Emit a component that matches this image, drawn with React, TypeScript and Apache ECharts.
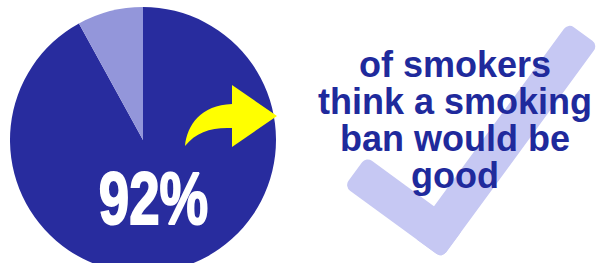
import React, { useEffect, useRef } from "react";
import * as echarts from "echarts";

const categories = ["Think a smoking ban would be good", "Other smokers"];
const values = [92, 8];
const captionLines = ["of smokers", "think a smoking", "ban would be", "good"];

const arrowPath =
  "M185,146 C187,125 201,105 232,104 L232,85 L277,116 L232,147 L232,128 C212,127 196,132 185,146 Z";
echarts.graphic.registerShape("curvedArrow", echarts.graphic.extendPath(arrowPath, {}) as any);

export default function App() {
  const ref = useRef<HTMLDivElement>(null);
  useEffect(() => {
    if (!ref.current) return;
    const chart = echarts.init(ref.current, undefined, { renderer: "svg" });
    const checkColor = "#c6c8f3";
    const w = 37;
    chart.setOption({
      animation: false,
      backgroundColor: "#ffffff",
      series: [
        {
          type: "pie",
          silent: true,
          center: [143, 140],
          radius: 133,
          startAngle: 90,
          clockwise: true,
          label: { show: false },
          labelLine: { show: false },
          emphasis: { disabled: true },
          itemStyle: { borderWidth: 0 },
          color: ["#282c9e", "#9396da"],
          data: categories.map((c, i) => ({ name: c, value: values[i] })),
          z: 1,
        },
      ],
      graphic: [
        {
          type: "group",
          x: 442,
          y: 258,
          rotation: (53.8 * Math.PI) / 180,
          z: 0,
          children: [
            { type: "rect", shape: { x: 0, y: -w, width: 264, height: w, r: 7 }, style: { fill: checkColor } },
            { type: "rect", shape: { x: 0, y: -121, width: w, height: 121, r: 7 }, style: { fill: checkColor } },
          ],
        },
        {
          type: "curvedArrow",
          x: 0,
          y: 0,
          z: 10,
          style: { fill: "#ffff00" },
        },
        {
          type: "text",
          x: 153.5,
          y: 198,
          scaleX: 0.74,
          z: 10,
          style: {
            text: `${values[0]}%`,
            fill: "#ffffff",
            stroke: "#ffffff",
            lineWidth: 2,
            font: "bold 74px 'Liberation Sans', Arial, sans-serif",
            align: "center",
            verticalAlign: "middle",
          },
        },
        {
          type: "text",
          x: 455,
          y: 46,
          z: 10,
          style: {
            text: captionLines.join("\n"),
            fill: "#1f2a9c",
            font: "bold 36px 'Liberation Sans', Arial, sans-serif",
            lineHeight: 37,
            align: "center",
            verticalAlign: "top",
          },
        },
      ],
    });
    return () => chart.dispose();
  }, []);
  return <div ref={ref} style={{ width: 601, height: 263, position: "absolute", left: 0, top: 0 }} />;
}
